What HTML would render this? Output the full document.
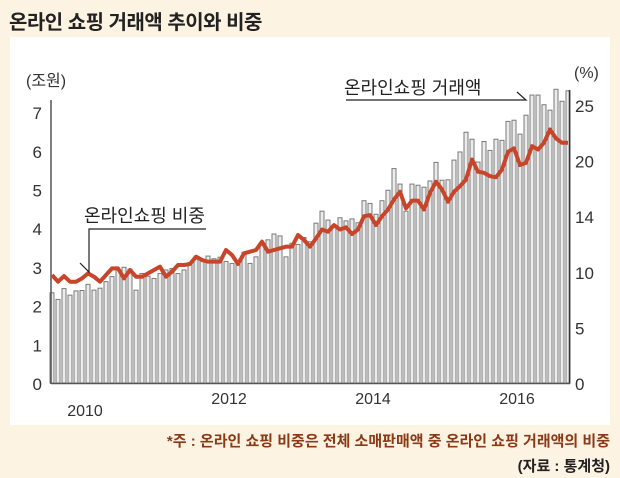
<!DOCTYPE html>
<html><head><meta charset="utf-8">
<style>
body{margin:0;width:620px;height:478px;background:#fdf3e3;overflow:hidden;font-family:"Liberation Sans","Noto Sans CJK KR",sans-serif;}
#wrap{position:relative;width:620px;height:478px;}
.title{position:absolute;left:9px;top:6px;font-size:20px;font-weight:bold;color:#222;letter-spacing:-0.5px;}
.panel{position:absolute;left:10px;top:37px;width:600px;height:388px;background:#fff;}
.note{position:absolute;right:10px;top:430px;font-size:15px;font-weight:bold;color:#8a3a16;}
.src{position:absolute;right:10px;top:455px;font-size:15px;font-weight:bold;color:#222;}
svg{position:absolute;left:0;top:0;}
</style></head><body>
<div id="wrap">
<div class="title">온라인 쇼핑 거래액 추이와 비중</div>
<div class="panel"></div>
<svg id="chart" width="620" height="478"></svg>
<div class="note">*주 : 온라인 쇼핑 비중은 전체 소매판매액 중 온라인 쇼핑 거래액의 비중</div>
<div class="src">(자료 : 통계청)</div>
</div>
<script>
const amountValues=[2.33,2.16,2.44,2.27,2.38,2.39,2.55,2.40,2.45,2.62,2.75,2.92,2.99,2.94,2.40,2.83,2.76,2.70,2.83,2.92,2.96,2.83,2.92,3.11,3.20,3.20,3.28,3.21,3.25,3.14,3.09,3.09,3.38,3.09,3.26,3.57,3.70,3.85,3.80,3.26,3.61,3.58,3.76,3.65,
4.13,4.44,4.21,4.08,4.27,4.19,4.24,4.14,4.71,4.64,4.36,4.71,4.98,5.54,5.14,4.44,5.14,5.11,5.06,5.22,5.70,5.24,
5.25,5.76,5.97,6.48,6.30,5.71,6.24,6.01,6.30,6.27,6.76,6.79,6.43,6.92,7.44,7.44,7.19,7.05,7.59,7.28,7.55];
const shareValues=[9.71,9.11,9.62,9.11,9.11,9.41,9.86,9.56,9.11,9.71,10.31,10.31,9.41,10.16,9.56,9.56,9.86,10.16,10.46,9.56,10.01,10.61,10.61,10.70,11.36,11.06,10.91,10.91,10.91,11.96,11.51,10.70,11.66,11.81,11.96,12.71,11.81,11.96,12.11,12.26,12.26,13.31,12.86,12.26,
13.0,13.8,13.6,14.2,13.8,14.0,13.4,13.8,15.0,15.1,14.2,15.0,15.6,16.5,17.2,15.7,16.4,16.4,15.6,17.1,18.1,17.4,
16.3,17.2,17.7,18.3,20.1,19.0,18.9,18.6,18.5,19.2,20.8,21.1,19.6,19.8,21.3,21.0,21.6,22.8,22.0,21.6,21.6];
const leftTicks=[0,1,2,3,4,5,6,7];
const rightTickVals=[0,5,10,15,20,25];
const rightTickLabels=['0','5','10','14','20','25'];
const yearLabels=['2010','2012','2014','2016'];
const yearIndex=[5.5,29.5,53.5,77.5];

const NS='http://www.w3.org/2000/svg';
const svg=document.getElementById('chart');
const X0=52,X1=568,Y0=383;
const n=amountValues.length;
const step=(X1-X0)/(n-1);
const xOf=i=>X0+i*step;
const yL=v=>Y0-v*38.7;
const yR=v=>Y0-v*11.12;
function mk(tag,attrs,parent){const e=document.createElementNS(NS,tag);for(const k in attrs)e.setAttribute(k,attrs[k]);(parent||svg).appendChild(e);return e;}

const bars=mk('g',{});


amountValues.forEach((v,i)=>{
  const r=mk('rect',{x:xOf(i)-2,y:yL(v),width:4,height:Y0-yL(v),fill:'#ececec',stroke:'#7a7a7a','stroke-width':1},bars);
  
  
});
// axes
const la=mk('line',{x1:51,y1:100,x2:51,y2:Y0+1,stroke:'#555','stroke-width':1.5});


const ra=mk('line',{x1:569.5,y1:90,x2:569.5,y2:Y0+1,stroke:'#333','stroke-width':1.5});


const ba=mk('line',{x1:51,y1:Y0+0.5,x2:570,y2:Y0+0.5,stroke:'#555','stroke-width':1.5});


// line
const pts=shareValues.map((v,i)=>xOf(i)+','+yR(v)).join(' ');
const pl=mk('polyline',{points:pts,fill:'none',stroke:'#c9452a','stroke-width':4,'stroke-linejoin':'round'});


// ticks
leftTicks.forEach(t=>{
  const e=mk('text',{x:42,y:yL(t)+7,'text-anchor':'end','font-size':17,fill:'#333'});
  e.textContent=t;
  
  
});
rightTickVals.forEach((t,i)=>{
  const e=mk('text',{x:575,y:yR(t)+7,'font-size':17,fill:'#333'});
  e.textContent=rightTickLabels[i];
  
  
});
yearLabels.forEach((t,i)=>{
  const e=mk('text',{x:xOf(yearIndex[i]),y:i===0?416:404,'text-anchor':'middle','font-size':16,fill:'#333'});
  e.textContent=t;
  
  
});
const lu=mk('text',{x:26,y:86,'font-size':16,fill:'#333'});lu.textContent='(조원)';


const ru=mk('text',{x:574,y:78,'font-size':16,fill:'#333'});ru.textContent='(%)';


// annotations
const a1=mk('text',{x:344,y:94,'font-size':18,fill:'#222'});a1.textContent='온라인쇼핑 거래액';


const l1=mk('polyline',{points:'346,100 526,100 517,92',fill:'none',stroke:'#222','stroke-width':1.2});


const a2=mk('text',{x:84,y:222,'font-size':18,fill:'#222'});a2.textContent='온라인쇼핑 비중';


const l2=mk('polyline',{points:'206,229 89,229 89,272 80,263',fill:'none',stroke:'#222','stroke-width':1.2});


</script>
</body></html>
